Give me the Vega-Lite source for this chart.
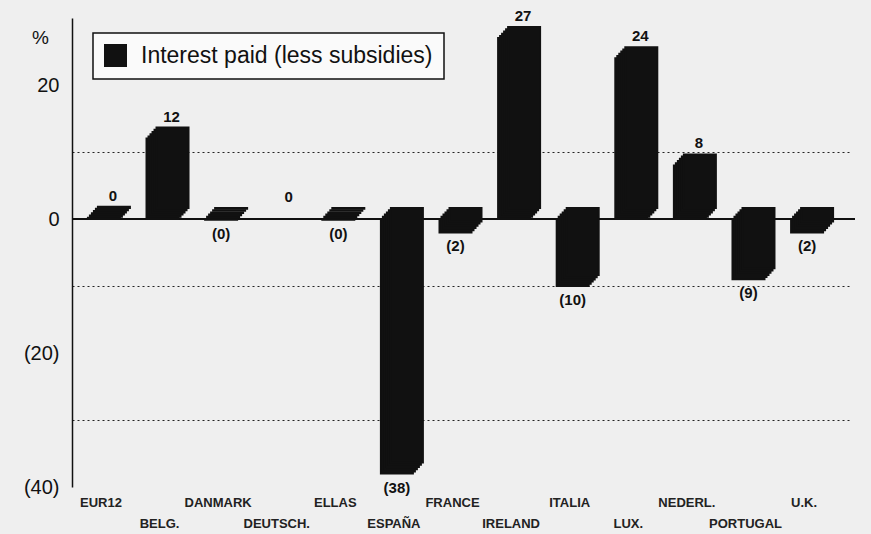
{
  "$schema": "https://vega.github.io/schema/vega-lite/v6.json",
  "width": 783,
  "height": 469,
  "autosize": "none",
  "padding": {"left": 72, "top": 18, "right": 16, "bottom": 47},
  "background": "#efefef",
  "data": {
    "values": [
      {"country": "EUR12", "value": 0.2, "label": "0"},
      {"country": "BELG.", "value": 12, "label": "12"},
      {"country": "DANMARK", "value": -0.1, "label": "(0)"},
      {"country": "DEUTSCH.", "value": 0, "label": "0"},
      {"country": "ELLAS", "value": -0.1, "label": "(0)"},
      {"country": "ESPAÑA", "value": -38, "label": "(38)"},
      {"country": "FRANCE", "value": -2, "label": "(2)"},
      {"country": "IRELAND", "value": 27, "label": "27"},
      {"country": "ITALIA", "value": -10, "label": "(10)"},
      {"country": "LUX.", "value": 24, "label": "24"},
      {"country": "NEDERL.", "value": 8, "label": "8"},
      {"country": "PORTUGAL", "value": -9, "label": "(9)"},
      {"country": "U.K.", "value": -2, "label": "(2)"}
    ]
  },
  "encoding": {
    "x": {
      "field": "country",
      "type": "nominal",
      "sort": null,
      "scale": {
        "domain": ["EUR12", "BELG.", "DANMARK", "DEUTSCH.", "ELLAS", "ESPAÑA", "FRANCE", "IRELAND", "ITALIA", "LUX.", "NEDERL.", "PORTUGAL", "U.K."],
        "range": [0, 777],
        "paddingInner": 0,
        "paddingOuter": 0.13
      },
      "axis": {
        "title": null,
        "domain": false,
        "ticks": false,
        "labelAngle": 0,
        "labelFont": "Liberation Sans",
        "labelFontSize": 13,
        "labelFontWeight": "bold",
        "labelColor": "#222",
        "labelOffset": -8,
        "labelPadding": {
          "condition": {"test": "indexof(['BELG.','DEUTSCH.','ESPAÑA','IRELAND','LUX.','PORTUGAL'], datum.value) >= 0", "value": 30},
          "value": 9
        }
      }
    },
    "y": {
      "field": "value",
      "type": "quantitative",
      "scale": {"domain": [-40, 30], "nice": false},
      "axis": {
        "title": "%",
        "titleAngle": 0,
        "titleX": -32,
        "titleY": 19,
        "titleAlign": "center",
        "titleBaseline": "middle",
        "titleFont": "Liberation Sans",
        "titleFontSize": 19,
        "titleFontWeight": "normal",
        "titleColor": "#111",
        "values": [-40, -30, -20, -10, 0, 10, 20],
        "labelExpr": "datum.value % 20 != 0 ? '' : (datum.value < 0 ? '(' + abs(datum.value) + ')' : datum.value + '')",
        "labelFont": "Liberation Sans",
        "labelFontSize": 20,
        "labelColor": "#111",
        "labelPadding": 13,
        "ticks": false,
        "domainColor": "#111",
        "domainWidth": 1.5,
        "grid": true,
        "gridColor": "#222",
        "gridDash": [2, 3],
        "gridOpacity": {"condition": {"test": "datum.value % 20 != 0", "value": 1}, "value": 0}
      }
    }
  },
  "layer": [
    {
      "mark": {"type": "rule", "color": "#111", "strokeWidth": 1.5},
      "encoding": {"y": {"datum": 0}, "x": {"value": 0}, "x2": {"value": 783}}
    },
    {
      "transform": [{"filter": "datum.value != 0"}],
      "mark": {"type": "bar", "size": 32, "stroke": "#111", "strokeWidth": 2, "xOffset": -5, "x2Offset": -5, "yOffset": 0, "y2Offset": 0},
      "encoding": {"y2": {"datum": 0}, "color": {"datum": "Interest paid (less subsidies)", "scale": {"range": ["#111"]}, "legend": {"title": null}}}
    },
    {
      "transform": [{"filter": "datum.value != 0"}],
      "mark": {"type": "bar", "size": 32, "stroke": "#111", "strokeWidth": 2, "xOffset": -3, "x2Offset": -3, "yOffset": -2.2, "y2Offset": -2.2},
      "encoding": {"y2": {"datum": 0}, "color": {"datum": "Interest paid (less subsidies)"}}
    },
    {
      "transform": [{"filter": "datum.value != 0"}],
      "mark": {"type": "bar", "size": 32, "stroke": "#111", "strokeWidth": 2, "xOffset": -1, "x2Offset": -1, "yOffset": -4.4, "y2Offset": -4.4},
      "encoding": {"y2": {"datum": 0}, "color": {"datum": "Interest paid (less subsidies)"}}
    },
    {
      "transform": [{"filter": "datum.value != 0"}],
      "mark": {"type": "bar", "size": 32, "stroke": "#111", "strokeWidth": 2, "xOffset": 1, "x2Offset": 1, "yOffset": -6.6, "y2Offset": -6.6},
      "encoding": {"y2": {"datum": 0}, "color": {"datum": "Interest paid (less subsidies)"}}
    },
    {
      "transform": [{"filter": "datum.value != 0"}],
      "mark": {"type": "bar", "size": 32, "stroke": "#111", "strokeWidth": 2, "xOffset": 3, "x2Offset": 3, "yOffset": -8.8, "y2Offset": -8.8},
      "encoding": {"y2": {"datum": 0}, "color": {"datum": "Interest paid (less subsidies)"}}
    },
    {
      "transform": [{"filter": "datum.value != 0"}],
      "mark": {"type": "bar", "size": 32, "stroke": "#111", "strokeWidth": 2, "xOffset": 5, "x2Offset": 5, "yOffset": -11, "y2Offset": -11},
      "encoding": {"y2": {"datum": 0}, "color": {"datum": "Interest paid (less subsidies)"}}
    },
    {
      "transform": [{"filter": "datum.value >= 0"}],
      "mark": {"type": "text", "dy": -22, "dx": 4, "font": "Liberation Sans", "fontSize": 15, "fontWeight": "bold", "color": "#111", "baseline": "middle"},
      "encoding": {"text": {"field": "label"}}
    },
    {
      "transform": [{"filter": "datum.value < 0"}],
      "mark": {"type": "text", "dy": 14, "dx": -5, "font": "Liberation Sans", "fontSize": 15, "fontWeight": "bold", "color": "#111", "baseline": "middle"},
      "encoding": {"text": {"field": "label"}}
    }
  ],
  "config": {
    "view": {"stroke": null},
    "legend": {
      "orient": "none",
      "legendX": 21,
      "legendY": 15,
      "padding": 11,
      "fillColor": "#fafafa",
      "strokeColor": "#111",
      "strokeWidth": 1.5,
      "symbolType": "square",
      "symbolSize": 529,
      "symbolStrokeWidth": 0,
      "symbolOpacity": 1,
      "labelFont": "Liberation Sans",
      "labelFontSize": 23,
      "labelColor": "#111",
      "labelOffset": 14,
      "labelLimit": 400
    }
  }
}
